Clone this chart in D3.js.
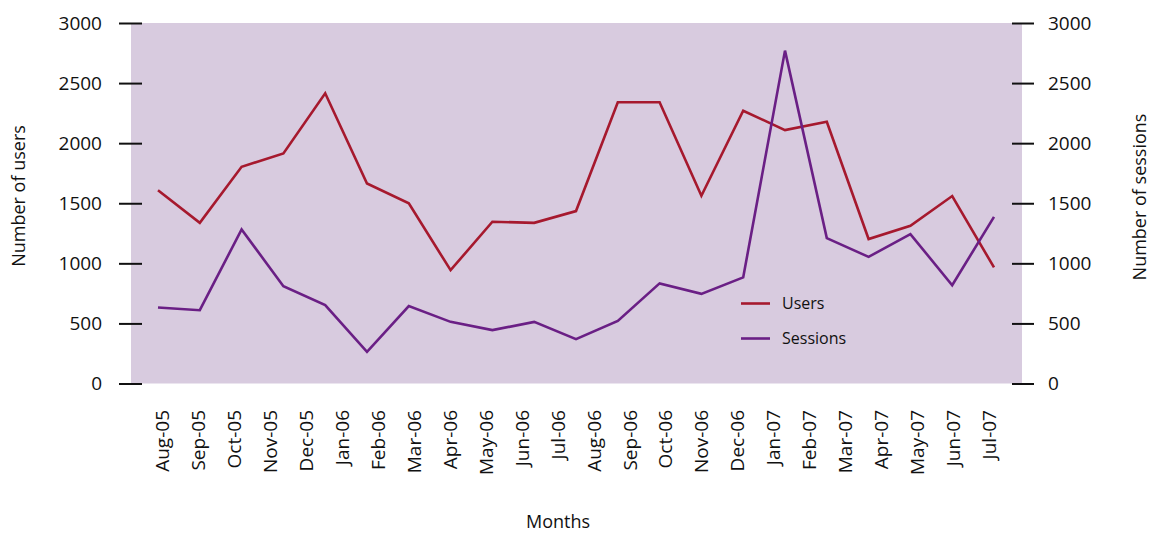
<!DOCTYPE html>
<html><head><meta charset="utf-8">
<script src="https://cdn.jsdelivr.net/npm/d3@7"></script>
<style>body{margin:0;background:#fff}svg{display:block}text{font-family:"Open Sans",sans-serif;fill:#111}</style>
</head><body>
<script>
const months = ["Aug-05","Sep-05","Oct-05","Nov-05","Dec-05","Jan-06","Feb-06","Mar-06","Apr-06","May-06","Jun-06","Jul-06","Aug-06","Sep-06","Oct-06","Nov-06","Dec-06","Jan-07","Feb-07","Mar-07","Apr-07","May-07","Jun-07","Jul-07"];
const users = [1609,1337,1803,1915,2415,1665,1499,943,1346,1337,1435,2340,2340,1562,2270,2109,2178,1202,1312,1560,966];
const sessions = [633,610,1282,810,652,263,644,513,444,513,369,521,833,746,883,2770,1210,1054,1243,818,1387];
const yTicks = [0,500,1000,1500,2000,2500,3000];
const seriesNames = ["Users","Sessions"];
const colors = ["#a6192e","#6a1f85"];

const W=1150,H=533;
const plot={left:131,right:1022,top:23,bottom:383.5};
const svg=d3.select("body").append("svg").attr("width",W).attr("height",H);

svg.append("rect").attr("x",plot.left).attr("y",plot.top)
  .attr("width",plot.right-plot.left).attr("height",plot.bottom-plot.top)
  .attr("fill","#d8cbdf");

const y=d3.scaleLinear().domain([0,3000]).range([plot.bottom,plot.top]);
const y2=d3.scaleLinear().domain([0,3000]).range([plot.bottom,plot.top]);
const xLab=d3.scalePoint().domain(months).range([161.7,988.8]);
const xIdx=d3.scaleLinear().domain([0,users.length-1]).range([158,994]);

// left axis
const gl=svg.append("g").attr("transform",`translate(142,0)`)
  .call(d3.axisLeft(y).tickValues(yTicks).tickSize(23).tickPadding(17).tickFormat(d3.format("d")));
gl.select(".domain").remove();
gl.selectAll(".tick line").attr("stroke","#111").attr("stroke-width",2);
gl.selectAll(".tick text").attr("font-size",19).attr("font-family","'Open Sans',sans-serif").attr("fill","#111");

// right axis
const gr=svg.append("g").attr("transform",`translate(1012,0)`)
  .call(d3.axisRight(y2).tickValues(yTicks).tickSize(22).tickPadding(14).tickFormat(d3.format("d")));
gr.select(".domain").remove();
gr.selectAll(".tick line").attr("stroke","#111").attr("stroke-width",2);
gr.selectAll(".tick text").attr("font-size",19).attr("font-family","'Open Sans',sans-serif").attr("fill","#111");

// x labels
const gx=svg.append("g").attr("transform",`translate(0,410)`)
  .call(d3.axisBottom(xLab).tickSize(0).tickPadding(0));
gx.select(".domain").remove();
gx.selectAll(".tick text").attr("font-size",19).attr("font-family","'Open Sans',sans-serif").attr("fill","#111")
  .attr("text-anchor","end").attr("transform","rotate(-90)").attr("x",0).attr("y",0).attr("dy","0.36em");

// lines
const line=d3.line().x((d,i)=>xIdx(i)).y(d=>y(d));
[users,sessions].forEach((s,k)=>{
  svg.append("path").datum(s).attr("d",line).attr("fill","none")
    .attr("stroke",colors[k]).attr("stroke-width",2.6).attr("stroke-linejoin","miter");
});

// legend
seriesNames.forEach((n,k)=>{
  const ly=303.5+k*35;
  svg.append("line").attr("x1",741).attr("x2",770).attr("y1",ly).attr("y2",ly)
    .attr("stroke",colors[k]).attr("stroke-width",2.6);
  svg.append("text").attr("x",782).attr("y",ly).attr("dy","0.36em").attr("font-size",16).text(n);
});

// axis titles
svg.append("text").attr("transform","translate(25,196) rotate(-90)").attr("text-anchor","middle")
  .attr("font-size",18).text("Number of users");
svg.append("text").attr("transform","translate(1133,197) rotate(-90)").attr("text-anchor","middle")
  .attr("font-size",18).attr("dy","0.7em").text("Number of sessions");
svg.append("text").attr("x",558).attr("y",528).attr("text-anchor","middle").attr("font-size",18).text("Months");
</script>
</body></html>
